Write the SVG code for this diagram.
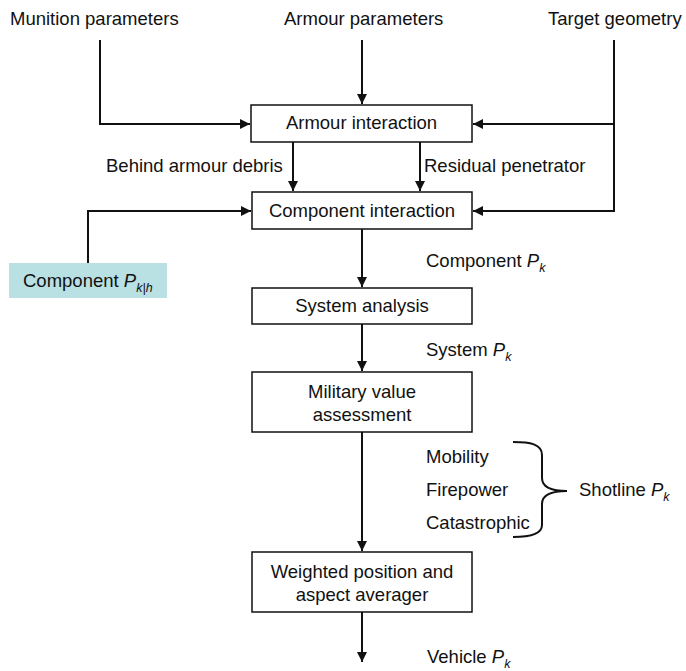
<svg xmlns="http://www.w3.org/2000/svg" width="686" height="671" viewBox="0 0 686 671">
  <style>
    text { font-family: "Liberation Sans", Arial, sans-serif; font-size: 18.5px; fill: #111; }
    .c { text-anchor: middle; }
    .box { fill: #fff; stroke: #111; stroke-width: 1.5; }
    .shade { fill: #b9e0e2; stroke: none; }
    .ln { fill: none; stroke: #111; stroke-width: 2; }
    .it { font-style: italic; }
    .sub { font-style: italic; font-size: 12.5px; }
  </style>
  <defs>
    <marker id="ah" viewBox="0 0 10 10" refX="10" refY="5" markerWidth="5" markerHeight="5" markerUnits="strokeWidth" orient="auto">
      <path d="M0,0 L10,5 L0,10 Z" fill="#111"/>
    </marker>
  </defs>

  <!-- input labels -->
  <g id="munition-parameters"><text x="10" y="25">Munition parameters</text></g>
  <g id="armour-parameters"><text x="284" y="25">Armour parameters</text></g>
  <g id="target-geometry"><text x="548" y="25">Target geometry</text></g>

  <!-- connectors -->
  <g id="connectors">
    <path class="ln" d="M100,40 V124 H250" marker-end="url(#ah)"/>
    <path class="ln" d="M362,40 V104" marker-end="url(#ah)"/>
    <path class="ln" d="M614,40 V211 H473" marker-end="url(#ah)"/>
    <path class="ln" d="M614,124 H473" marker-end="url(#ah)"/>
    <path class="ln" d="M293,142 V191" marker-end="url(#ah)"/>
    <path class="ln" d="M420,142 V191" marker-end="url(#ah)"/>
    <path class="ln" d="M88,263 V211 H251" marker-end="url(#ah)"/>
    <path class="ln" d="M362,229 V287" marker-end="url(#ah)"/>
    <path class="ln" d="M362,324 V371" marker-end="url(#ah)"/>
    <path class="ln" d="M362,432 V551" marker-end="url(#ah)"/>
    <path class="ln" d="M362,612 V662" marker-end="url(#ah)"/>
    <!-- brace grouping the three shotline outcomes -->
    <path class="ln" stroke-width="1.6" d="M513,442 C530,442 542,444 542,455 V478 C542,488 552,491 567,491 C552,491 542,494 542,504 V525 C542,534 530,537 513,537"/>
  </g>

  <g id="armour-interaction">
    <rect class="box" x="251" y="105" width="221" height="37"/>
    <text class="c" x="361.5" y="129">Armour interaction</text>
  </g>
  <g id="edge-labels-armour">
    <text x="106" y="172">Behind armour debris</text>
    <text x="424" y="172">Residual penetrator</text>
  </g>

  <g id="component-interaction">
    <rect class="box" x="252" y="192" width="220" height="37"/>
    <text class="c" x="362" y="217">Component interaction</text>
  </g>

  <g id="component-pkh">
    <rect class="shade" x="9" y="263" width="158" height="35"/>
    <text x="23" y="287">Component <tspan class="it">P</tspan><tspan class="sub" dy="5">k|h</tspan></text>
  </g>

  <g id="component-pk"><text x="426" y="267">Component <tspan class="it">P</tspan><tspan class="sub" dy="5">k</tspan></text></g>

  <g id="system-analysis">
    <rect class="box" x="252" y="288" width="220" height="36"/>
    <text class="c" x="362" y="312">System analysis</text>
  </g>

  <g id="system-pk"><text x="426" y="356">System <tspan class="it">P</tspan><tspan class="sub" dy="5">k</tspan></text></g>

  <g id="military-value-assessment">
    <rect class="box" x="252" y="372" width="220" height="60"/>
    <text class="c" x="362" y="398">Military value</text>
    <text class="c" x="362" y="421">assessment</text>
  </g>

  <g id="shotline-outcomes">
    <text x="426" y="463">Mobility</text>
    <text x="426" y="496">Firepower</text>
    <text x="426" y="529">Catastrophic</text>
  </g>
  <g id="shotline-pk"><text x="579" y="496">Shotline <tspan class="it">P</tspan><tspan class="sub" dy="5">k</tspan></text></g>

  <g id="weighted-averager">
    <rect class="box" x="252" y="552" width="220" height="60"/>
    <text class="c" x="362" y="578">Weighted position and</text>
    <text class="c" x="362" y="601">aspect averager</text>
  </g>

  <g id="vehicle-pk"><text x="427" y="663">Vehicle <tspan class="it">P</tspan><tspan class="sub" dy="5">k</tspan></text></g>
</svg>
